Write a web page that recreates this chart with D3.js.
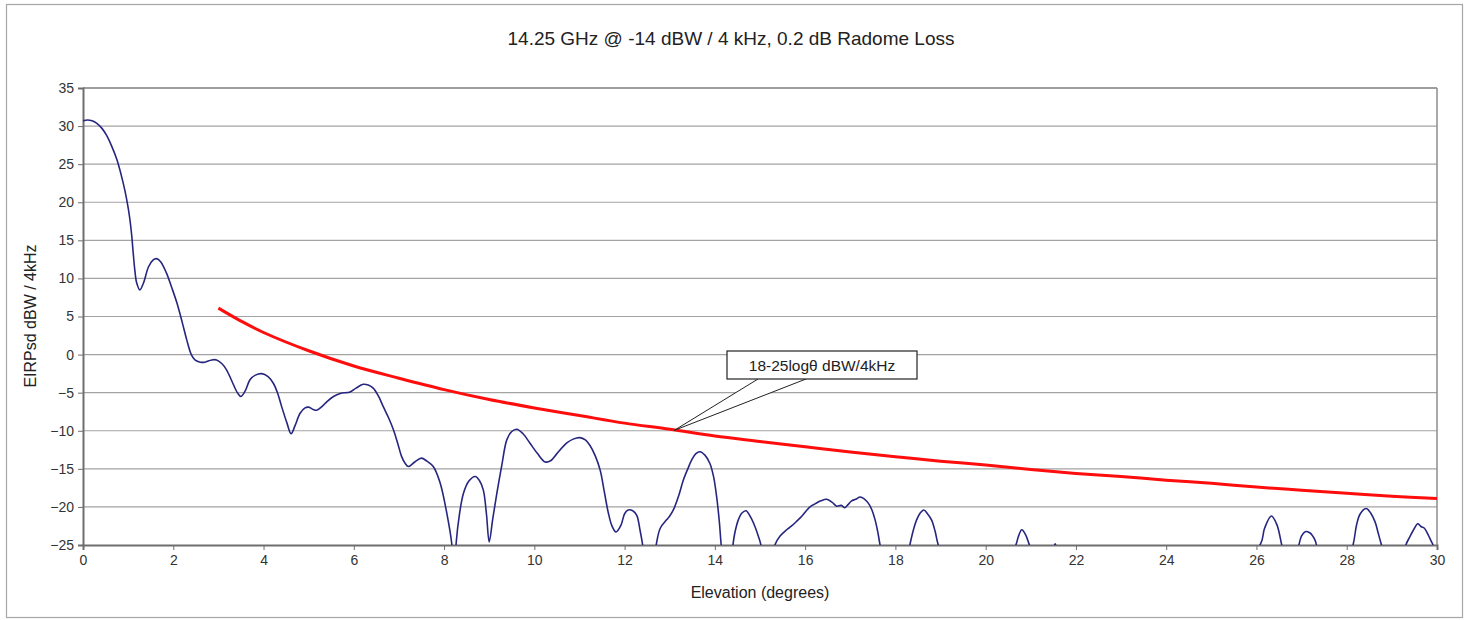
<!DOCTYPE html>
<html>
<head>
<meta charset="utf-8">
<script src="https://cdn.jsdelivr.net/npm/d3@7"></script>
<style>
    body { margin: 0; background: #fff; }
    svg { display: block; font-family: Arial, "Liberation Sans", sans-serif; }
</style>
</head>
<body>
<script>
// elevation (deg) and EIRPsd, values below -25 get clipped
var elev = [0.00, 0.10, 0.20, 0.30, 0.42, 0.52, 0.64, 0.75, 0.85, 0.93, 1.00, 1.04, 1.08, 1.11, 1.15, 1.19, 1.26, 1.34, 1.45, 1.55,
    1.63, 1.72, 1.85, 1.96, 2.08, 2.20, 2.30, 2.40, 2.48, 2.60, 2.70, 2.85, 2.96, 3.08, 3.18, 3.30, 3.42, 3.50, 3.60, 3.70,
    3.82, 3.96, 4.10, 4.22, 4.32, 4.40, 4.52, 4.61, 4.70, 4.81, 4.92, 5.00, 5.10, 5.18, 5.30, 5.40, 5.55, 5.70, 5.92, 6.05,
    6.21, 6.32, 6.43, 6.55, 6.65, 6.77, 6.88, 6.98, 7.06, 7.14, 7.21, 7.35, 7.50, 7.62, 7.76, 7.91, 8.06, 8.17, 8.22, 8.27,
    8.34, 8.43, 8.55, 8.69, 8.78, 8.87, 8.94, 9.00, 9.08, 9.17, 9.28, 9.39, 9.50, 9.61, 9.75, 9.90, 10.07, 10.24, 10.37, 10.50,
    10.72, 10.86, 11.01, 11.13, 11.23, 11.35, 11.46, 11.55, 11.64, 11.72, 11.81, 11.92, 12.00, 12.08, 12.18, 12.27, 12.34, 12.40, 12.55, 12.70,
    12.79, 12.93, 13.00, 13.08, 13.20, 13.30, 13.40, 13.49, 13.58, 13.67, 13.78, 13.89, 13.97, 14.04, 14.10, 14.14, 14.27, 14.40, 14.45, 14.52,
    14.60, 14.69, 14.79, 14.89, 14.96, 15.02, 15.18, 15.33, 15.45, 15.59, 15.70, 15.81, 15.93, 16.04, 16.13, 16.22, 16.35, 16.48, 16.60, 16.70,
    16.80, 16.88, 16.95, 17.03, 17.12, 17.22, 17.32, 17.40, 17.48, 17.55, 17.61, 17.66, 17.99, 18.32, 18.40, 18.47, 18.55, 18.63, 18.71, 18.80,
    18.88, 18.95, 19.80, 20.67, 20.73, 20.80, 20.88, 20.97, 21.25, 21.48, 21.54, 21.60, 23.80, 26.08, 26.18, 26.33, 26.45, 26.56, 26.75, 26.94,
    27.00, 27.08, 27.18, 27.23, 27.30, 27.33, 27.73, 28.14, 28.22, 28.30, 28.43, 28.53, 28.63, 28.70, 28.77, 29.05, 29.31, 29.40, 29.50, 29.57,
    29.65, 29.72, 29.80, 29.87, 29.91, 30.00];
var eirp = [30.7, 30.8, 30.7, 30.4, 29.7, 28.8, 27.3, 25.6, 23.5, 21.5, 19.3, 17.7, 15.6, 13.5, 11.0, 9.4, 8.5, 9.4, 11.5, 12.4,
    12.6, 12.2, 10.7, 8.9, 6.8, 4.2, 1.9, 0.0, -0.7, -1.0, -1.0, -0.7, -0.7, -1.2, -2.0, -3.5, -5.0, -5.5, -4.7, -3.3,
    -2.7, -2.5, -2.9, -3.8, -5.2, -6.8, -9.0, -10.4, -9.3, -7.7, -7.0, -6.9, -7.2, -7.3, -6.8, -6.2, -5.5, -5.1, -4.9, -4.4,
    -3.9, -4.0, -4.4, -5.5, -6.8, -8.3, -9.9, -11.8, -13.4, -14.3, -14.7, -14.1, -13.6, -14.0, -14.7, -16.8, -20.8, -24.8, -30, -24.6,
    -21.0, -18.2, -16.6, -16.0, -16.5, -17.8, -21.0, -24.6, -21.5, -18.2, -14.5, -11.2, -10.1, -9.8, -10.4, -11.6, -13.0, -14.1, -13.9, -13.0,
    -11.6, -11.1, -10.9, -11.2, -11.9, -13.3, -15.2, -18.0, -20.8, -22.5, -23.3, -22.4, -20.9, -20.4, -20.5, -21.1, -23.0, -25, -32, -25,
    -22.8, -21.7, -21.2, -20.4, -18.5, -16.5, -15.0, -13.8, -13.0, -12.75, -13.2, -14.3, -16.0, -18.7, -22.0, -25, -32, -25, -23.2, -21.7,
    -20.8, -20.5, -21.3, -22.6, -23.8, -25, -32, -25, -23.8, -23.0, -22.5, -21.9, -21.2, -20.4, -19.9, -19.6, -19.2, -19.0, -19.4, -19.9,
    -19.8, -20.1, -19.7, -19.2, -19.0, -18.7, -19.0, -19.5, -20.4, -21.7, -23.3, -25, -35, -25, -23.0, -21.7, -20.8, -20.4, -20.9, -21.7,
    -23.2, -25, -38, -25, -23.8, -23.0, -23.6, -25, -30, -26, -24.85, -26, -40, -25, -22.8, -21.2, -22.3, -25, -30, -25,
    -23.8, -23.25, -23.4, -23.7, -24.4, -25, -33, -25, -22.3, -20.9, -20.2, -20.8, -22.0, -23.5, -25, -31, -25, -23.9, -22.8, -22.2,
    -22.6, -22.8, -23.6, -24.5, -25, -30];

// mask line 18-25log(theta), read at the degree marks
var maskElev = [3, 3.5, 4, 5, 6, 7, 8, 9, 10, 11, 12, 13, 14, 15, 16, 17, 18, 19, 20, 21, 22, 23, 24, 25, 26, 27, 28, 29, 30];
var maskVal = [6.1, 4.4, 2.9, 0.5, -1.5, -3.1, -4.6, -5.9, -7.0, -8.0, -9.0, -9.8, -10.7, -11.4, -12.1, -12.8, -13.4, -14.0, -14.5,
    -15.1, -15.6, -16.0, -16.5, -16.9, -17.4, -17.8, -18.2, -18.6, -18.9];

var xTicks = d3.range(0, 31, 2);
var yTicks = d3.range(-25, 36, 5);

var chartTitle = "14.25 GHz @ -14 dBW / 4 kHz, 0.2 dB Radome Loss";
var xTitle = "Elevation (degrees)";
var yTitle = "EIRPsd dBW / 4kHz";
var maskLabel = "18-25logθ dBW/4kHz";

function drawChart() {
    var W = 1468, H = 620;
    var m = {left: 83, top: 88, right: 1437, bottom: 545};

    var svg = d3.select("body").append("svg").attr("width", W).attr("height", H);

    // outer frame
    svg.append("rect").attr("x", 6.5).attr("y", 4.5).attr("width", 1456).attr("height", 613)
        .attr("fill", "#fff").attr("stroke", "#a6a6a6").attr("stroke-width", 1.2);

    var x = d3.scaleLinear().domain([0, 30]).range([m.left, m.right]);
    var y = d3.scaleLinear().domain([-25, 35]).range([m.bottom, m.top]);

    // gridlines
    svg.append("g").selectAll("line").data(yTicks.slice(1)).enter().append("line")
        .attr("x1", m.left).attr("x2", m.right)
        .attr("y1", function (d) { return y(d); }).attr("y2", function (d) { return y(d); })
        .attr("stroke", "#a3a3a3").attr("stroke-width", 1.2);
    svg.append("line").attr("x1", m.right).attr("x2", m.right).attr("y1", m.top).attr("y2", m.bottom)
        .attr("stroke", "#8c8c8c").attr("stroke-width", 1.5);
    svg.append("line").attr("x1", m.left).attr("x2", m.right).attr("y1", m.top).attr("y2", m.top)
        .attr("stroke", "#8c8c8c").attr("stroke-width", 1.5);

    var yAxis = svg.append("g").attr("transform", "translate(" + m.left + ",0)")
        .call(d3.axisLeft(y).tickValues(yTicks).tickSize(5).tickPadding(4));
    var xAxis = svg.append("g").attr("transform", "translate(0," + m.bottom + ")")
        .call(d3.axisBottom(x).tickValues(xTicks).tickSize(5).tickPadding(5));
    [xAxis, yAxis].forEach(function (g) {
        g.attr("font-size", null).attr("font-family", null);
        g.select(".domain").attr("stroke", "#6e6e6e").attr("stroke-width", 2);
        g.selectAll(".tick line").attr("stroke", "#6e6e6e");
        g.selectAll("text").attr("fill", "#333").attr("font-size", 14);
    });

    svg.append("clipPath").attr("id", "plotclip").append("rect")
        .attr("x", m.left).attr("y", m.top).attr("width", m.right - m.left).attr("height", m.bottom - m.top);

    var pattern = elev.map(function (d, i) { return [d, eirp[i]]; });
    var mask = maskElev.map(function (d, i) { return [d, maskVal[i]]; });

    var line = d3.line()
        .x(function (d) { return x(d[0]); })
        .y(function (d) { return y(d[1]); })
        .curve(d3.curveCatmullRom.alpha(0.5));

    svg.append("path").datum(pattern).attr("d", line).attr("clip-path", "url(#plotclip)")
        .attr("fill", "none").attr("stroke", "#262680").attr("stroke-width", 1.6);

    svg.append("path").datum(mask).attr("d", line)
        .attr("fill", "none").attr("stroke", "#ff0d0d").attr("stroke-width", 3);

    // callout for the mask line
    var tip = [x(13.1), y(-9.95)];
    var bx = 727, by = 351, bw = 190, bh = 28;
    svg.append("path")
        .attr("d", "M" + (bx + 31) + "," + (by + bh) + "L" + tip[0] + "," + tip[1] + "L" + (bx + 79) + "," + (by + bh))
        .attr("fill", "#fff").attr("stroke", "#222").attr("stroke-width", 1);
    svg.append("rect").attr("x", bx).attr("y", by).attr("width", bw).attr("height", bh)
        .attr("fill", "#fff").attr("stroke", "#222").attr("stroke-width", 1.2);
    svg.append("text").attr("x", bx + bw / 2).attr("y", by + bh / 2 + 5.5).attr("text-anchor", "middle")
        .style("font-size", "15.5px").attr("fill", "#222").text(maskLabel);

    svg.append("text").attr("x", 731).attr("y", 45).attr("text-anchor", "middle")
        .style("font-size", "19px").attr("fill", "#222").text(chartTitle);
    svg.append("text").attr("x", 760).attr("y", 598).attr("text-anchor", "middle")
        .style("font-size", "16px").attr("fill", "#222").text(xTitle);
    svg.append("text").attr("transform", "translate(36,316) rotate(-90)").attr("text-anchor", "middle")
        .style("font-size", "16px").attr("fill", "#222").text(yTitle);
}

drawChart();
</script>
</body>
</html>
